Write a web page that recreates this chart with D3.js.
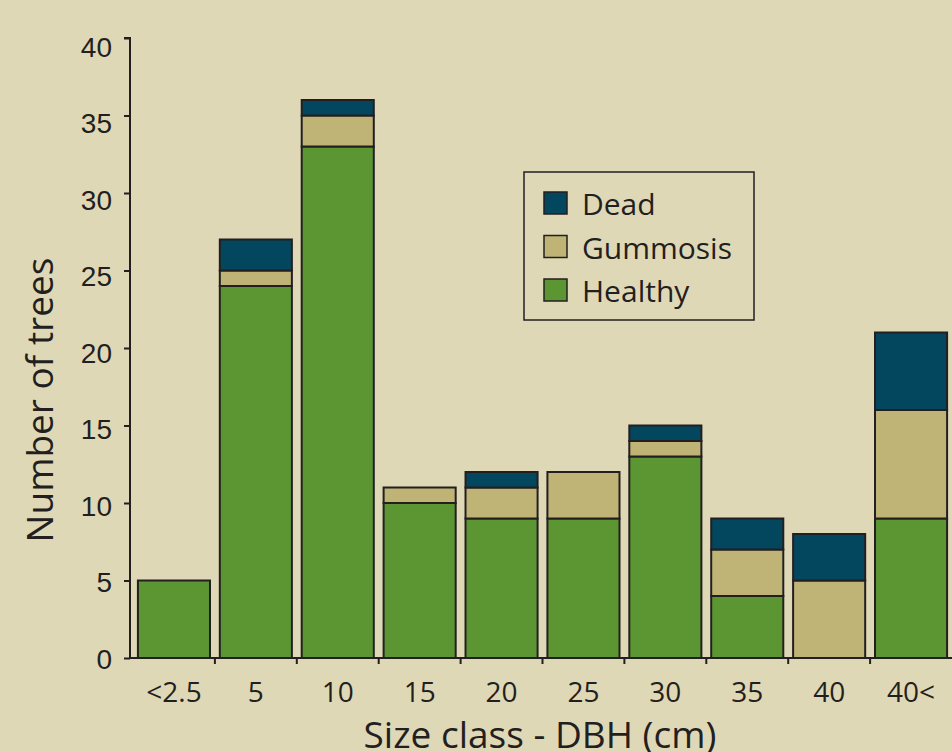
<!DOCTYPE html>
<html>
<head>
<meta charset="utf-8">
<script src="https://cdn.jsdelivr.net/npm/d3@7/dist/d3.min.js"></script>
<style>
  html, body { margin: 0; padding: 0; background: #dfd8b6; }
  svg { display: block; font-family: "Open Sans", "Noto Sans", sans-serif; }
</style>
</head>
<body>
<svg id="chart" width="952" height="752"></svg>
<script>
// size classes and counts per condition
const categories = ["<2.5", "5", "10", "15", "20", "25", "30", "35", "40", "40<"]
const healthy = [5, 24, 33, 10, 9, 9, 13, 4, 0, 9]
const gummosis = [0, 1, 2, 1, 2, 3, 1, 3, 5, 7]
const dead = [0, 2, 1, 0, 1, 0, 1, 2, 3, 5]
const seriesNames = ["Healthy", "Gummosis", "Dead"]
const yTicks = [0, 5, 10, 15, 20, 25, 30, 35, 40]

const colors = { Healthy: "#5c9633", Gummosis: "#bfb476", Dead: "#03475f" }
const ink = "#231f20"

const svg = d3.select("#chart")
const margin = { top: 38, left: 130, right: 0, bottom: 94 }
const width = 952, height = 752

const x = d3.scaleBand().domain(categories)
    .range([133, width - margin.right])
    .paddingInner(0.12).paddingOuter(0.06)
const y = d3.scaleLinear().domain([0, 40]).range([height - margin.bottom, margin.top])
// tick labels drift slightly below their ticks toward the top in the original
const yLabel = d3.scaleLinear().domain([0, 40]).range([y(0), y(40) + 8])

const table = categories.map((c, i) => ({ cat: c, Healthy: healthy[i], Gummosis: gummosis[i], Dead: dead[i] }))
const stacked = d3.stack().keys(seriesNames)(table)

// bars
stacked.forEach(layer => {
    svg.append("g").selectAll("rect").data(layer.filter(d => d[1] - d[0] > 0)).enter().append("rect")
        .attr("x", d => x(d.data.cat)).attr("width", x.bandwidth())
        .attr("y", d => y(d[1])).attr("height", d => y(d[0]) - y(d[1]))
        .attr("fill", colors[layer.key]).attr("stroke", ink).attr("stroke-width", 2)
})

// y axis
const yAxis = svg.append("g").attr("transform", `translate(${margin.left},0)`)
    .call(d3.axisLeft(y).tickValues(yTicks).tickSize(6).tickPadding(10))
yAxis.select(".domain").attr("stroke", ink).attr("stroke-width", 2).attr("d", `M-6,${y(40)}H0V${y(0)}`)
yAxis.selectAll(".tick line").attr("stroke", ink).attr("stroke-width", 2)
yAxis.selectAll(".tick text").attr("fill", ink).attr("font-size", 28)
    .attr("x", -18).attr("dy", "0.36em")
    .attr("transform", d => `translate(0,${yLabel(d) - y(d)})`)

// x axis: ticks sit between the bars
const step = x.step()
const boundaries = d3.range(categories.length).map(i => x(categories[i]) - step * x.paddingInner() / 2)
const xAxis = svg.append("g").attr("transform", `translate(0,${y(0)})`)
xAxis.append("line").attr("x1", margin.left - 1).attr("x2", width).attr("y1", 0).attr("y2", 0)
    .attr("stroke", ink).attr("stroke-width", 2)
xAxis.selectAll(".xt").data(boundaries.slice(1)).enter().append("line")
    .attr("x1", d => d).attr("x2", d => d).attr("y1", 0).attr("y2", 6)
    .attr("stroke", ink).attr("stroke-width", 2)
xAxis.selectAll(".xl").data(categories).enter().append("text")
    .attr("x", d => x(d) + x.bandwidth() / 2).attr("y", 44)
    .attr("text-anchor", "middle").attr("font-size", 28).attr("fill", ink)
    .text(d => d)

// axis titles
svg.append("text").attr("transform", "translate(53,400) rotate(-90)")
    .attr("text-anchor", "middle").attr("font-size", 37).attr("fill", ink)
    .text("Number of trees")
svg.append("text").attr("x", 540).attr("y", 748)
    .attr("text-anchor", "middle").attr("font-size", 37).attr("fill", ink)
    .text("Size class - DBH (cm)")

// legend
const legend = svg.append("g").attr("transform", "translate(524,172)")
legend.append("rect").attr("width", 230).attr("height", 148)
    .attr("fill", "none").attr("stroke", ink).attr("stroke-width", 1.5)
const legendItems = ["Dead", "Gummosis", "Healthy"]
legendItems.forEach((name, i) => {
    const g = legend.append("g").attr("transform", `translate(20,${20 + i * 43.5})`)
    g.append("rect").attr("width", 23).attr("height", 22)
        .attr("fill", colors[name]).attr("stroke", ink).attr("stroke-width", 1.5)
    g.append("text").attr("x", 38).attr("y", 23).attr("font-size", 30).attr("fill", ink).text(name)
})
</script>
</body>
</html>
